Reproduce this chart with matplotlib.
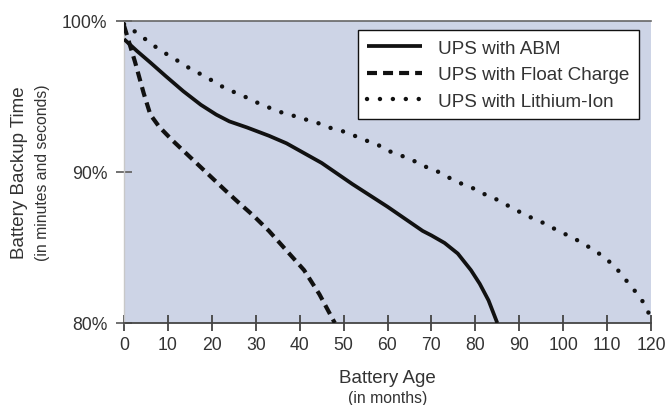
import matplotlib
matplotlib.use("Agg")
import matplotlib.pyplot as plt

plt.rcParams["font.family"] = ["Liberation Sans", "DejaVu Sans"]

# months / backup time (%)
ABM_MONTHS = [0, 3, 6, 9.5, 13.5, 17.5, 21, 24, 28, 33, 37, 41, 45, 48, 52, 56,
              60, 64, 68, 70, 73, 76, 79, 81, 83, 85]
ABM_PCT = [98.8, 98.0, 97.25, 96.35, 95.35, 94.45, 93.8, 93.35, 92.95, 92.4, 91.9,
           91.25, 90.6, 90.0, 89.2, 88.45, 87.7, 86.9, 86.1, 85.8, 85.3, 84.6, 83.5,
           82.6, 81.5, 80.0]

FLOAT_MONTHS = [0, 2.5, 4.5, 6, 8, 11, 15, 19, 23, 26, 29.5, 33, 37, 41, 44.5, 48]
FLOAT_PCT = [99.7, 97.3, 95.2, 93.8, 93.0, 92.1, 91.0, 89.9, 88.8, 88.0, 87.1, 86.1,
             84.8, 83.5, 81.9, 80.0]

LION_MONTHS = [0, 3, 5.3, 7.6, 10.3, 12.6, 15.3, 18, 20.4, 22.7, 25.4, 28.2, 31,
               33.6, 36.3, 38.9, 41.7, 44.6, 47.2, 49.8, 52.5, 55, 57.8, 60.2, 63,
               65.6, 68.2, 71, 73.5, 76.2, 79, 81.5, 84.1, 86.6, 89.2, 91.7, 94.3,
               97, 99.5, 102, 104.5, 107, 109.3, 111.6, 113.6, 115.5, 117.3, 118.8, 120]
LION_PCT = [99.8, 99.2, 98.7, 98.2, 97.7, 97.3, 96.8, 96.4, 96.0, 95.6, 95.25, 94.9,
            94.5, 94.2, 93.9, 93.7, 93.45, 93.2, 92.9, 92.7, 92.4, 92.1, 91.8, 91.4,
            91.1, 90.8, 90.4, 90.1, 89.7, 89.3, 89.0, 88.6, 88.3, 87.9, 87.5, 87.1,
            86.8, 86.4, 86.0, 85.7, 85.25, 84.85, 84.35, 83.8, 83.1, 82.4, 81.8,
            81.1, 80.3]

SERIES_LABELS = ["UPS with ABM", "UPS with Float Charge", "UPS with Lithium-Ion"]
X_TICKS = list(range(0, 121, 10))
Y_TICKS = [80, 90, 100]
Y_TICK_LABELS = ["80%", "90%", "100%"]

BG = "#cdd4e6"
INK = "#111111"
TEXT = "#333333"

W, H = 668, 406
fig = plt.figure(figsize=(W / 100, H / 100), dpi=100)
ax = fig.add_axes([124 / W, 1 - 324 / H, (651 - 124) / W, (324 - 22) / H])
ax.set_facecolor(BG)

ax.plot(ABM_MONTHS, ABM_PCT, color=INK, lw=2.7, solid_capstyle="butt",
        label=SERIES_LABELS[0], zorder=3)
ax.plot(FLOAT_MONTHS, FLOAT_PCT, color=INK, lw=3.0, dashes=(2.4, 1.45),
        dash_capstyle="butt", label=SERIES_LABELS[1], zorder=3)
ax.plot(LION_MONTHS, LION_PCT, color=INK, lw=3.2, dashes=(0.01, 2.9),
        dash_capstyle="round", label=SERIES_LABELS[2], zorder=3)

ax.set_xlim(0, 120)
ax.set_ylim(80, 100)
ax.set_xticks(X_TICKS)
ax.set_yticks(Y_TICKS)
ax.set_yticklabels(Y_TICK_LABELS)

ax.spines["right"].set_visible(False)
ax.spines["top"].set_color("#666666")
ax.spines["top"].set_linewidth(1.2)
ax.spines["left"].set_color("#c8c8c8")
ax.spines["left"].set_linewidth(1.0)
ax.spines["bottom"].set_color("#444444")
ax.spines["bottom"].set_linewidth(1.3)

ax.tick_params(axis="x", direction="inout", length=12, width=1.3, color="#444444",
               labelsize=12.7, labelcolor=TEXT, pad=3)
ax.tick_params(axis="y", direction="inout", length=12, width=1.3, color="#666666",
               labelsize=12.7, labelcolor=TEXT, pad=6)

fig.text(20 / W, 1 - 173 / H, "Battery Backup Time", rotation=90, ha="center",
         va="center", fontsize=13.5, color=TEXT)
fig.text(43 / W, 1 - 173 / H, "(in minutes and seconds)", rotation=90, ha="center",
         va="center", fontsize=11.3, color=TEXT)
fig.text(387.5 / W, 1 - 379 / H, "Battery Age", ha="center", va="center",
         fontsize=13.5, color=TEXT)
fig.text(387.5 / W, 1 - 399 / H, "(in months)", ha="center", va="center",
         fontsize=11.3, color=TEXT)

leg = ax.legend(loc="upper right", bbox_to_anchor=(639 / W, 1 - 31 / H),
                bbox_transform=fig.transFigure, borderaxespad=0, fontsize=13.6,
                handlelength=2.9, handletextpad=0.85, labelspacing=0.5,
                borderpad=0.5, fancybox=False, framealpha=1)
leg.get_frame().set_edgecolor(INK)
leg.get_frame().set_linewidth(1.0)
for t in leg.get_texts():
    t.set_color(TEXT)

fig.savefig("out.png", dpi=100)
